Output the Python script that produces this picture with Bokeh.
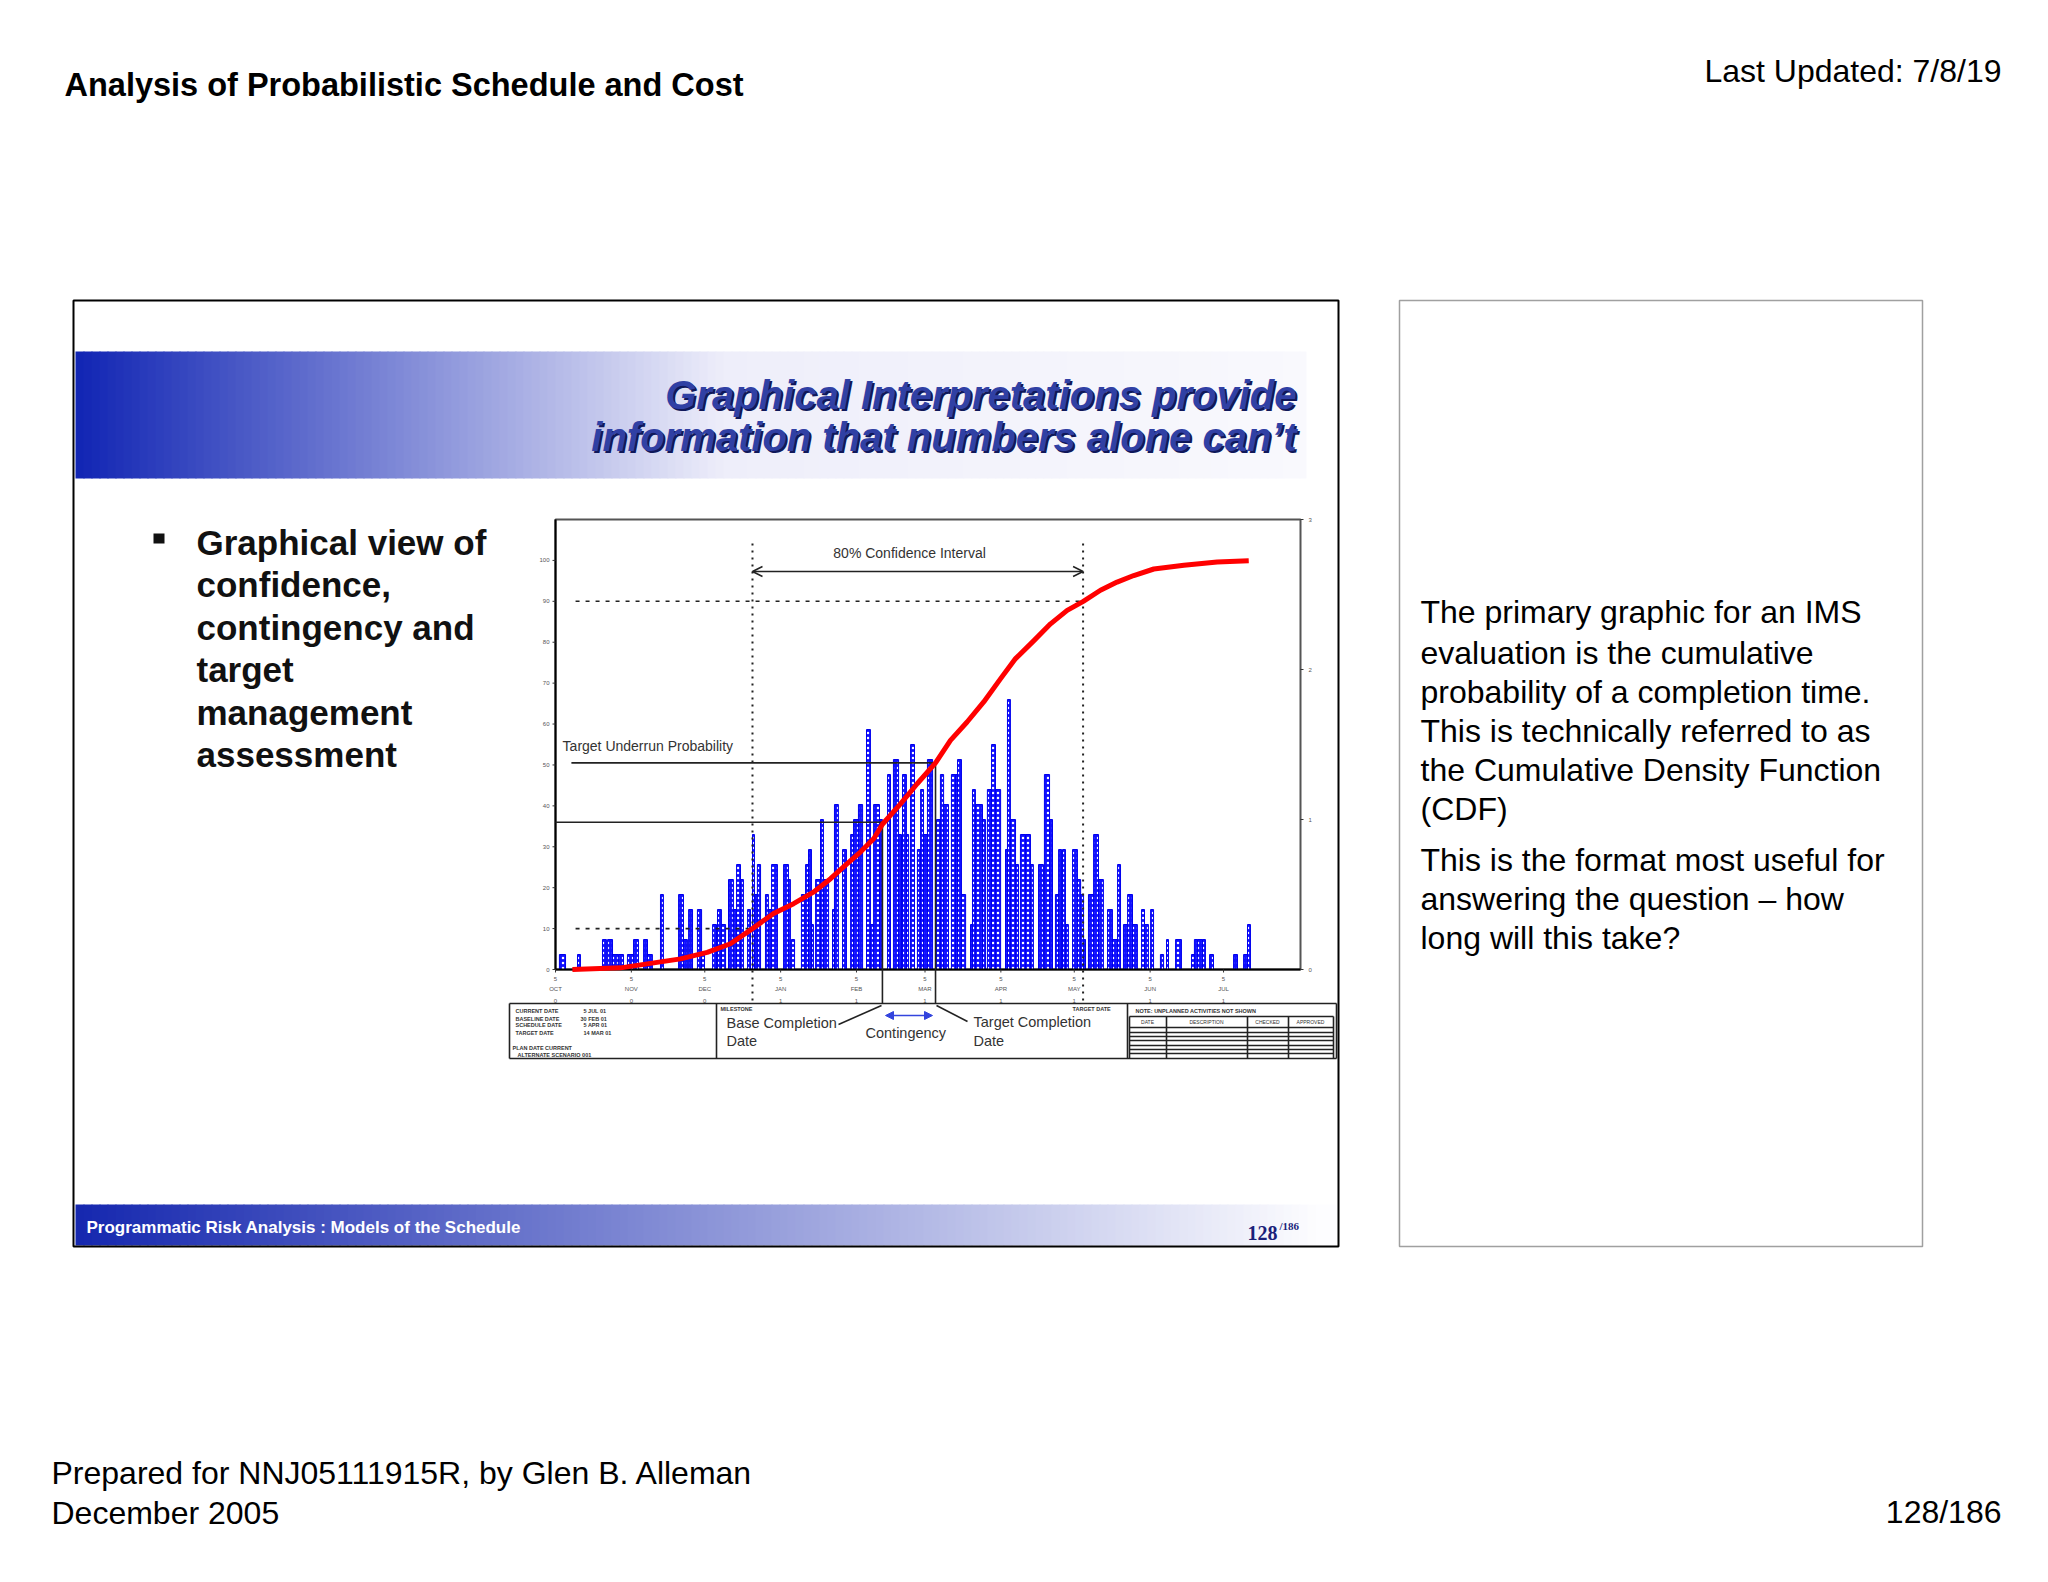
from bokeh.plotting import figure
from bokeh.models import Range1d, Label, Arrow, OpenHead, NormalHead
from bokeh.core.properties import value
from bokeh.embed import file_html
from bokeh.resources import INLINE

# ---------------- data ----------------
month_days = [0, 31, 61, 92, 123, 151, 182, 212, 243, 273]
month_names = ["OCT", "NOV", "DEC", "JAN", "FEB", "MAR", "APR", "MAY", "JUN", "JUL"]
month_daynum = ["5", "5", "5", "5", "5", "5", "5", "5", "5", "5"]
month_year = ["0", "0", "0", "1", "1", "1", "1", "1", "1", "1"]
prob_ticks = [0, 10, 20, 30, 40, 50, 60, 70, 80, 90, 100]
prob_labels = ["0", "10", "20", "30", "40", "50", "60", "70", "80", "90", "100"]
freq_ticks = [0, 1, 2, 3]
freq_labels = ["0", "1", "2", "3"]

bar_start = [1.6, 9.0, 19.2, 21.3, 23.3, 25.7, 29.4, 31.9, 36.0, 37.6,
             42.9, 50.3, 52.3, 54.4, 58.0, 59.7, 64.2, 66.2, 67.8, 70.7,
             72.7, 74.0, 75.6, 78.5, 80.5, 81.3, 82.5, 85.8, 87.0, 88.3,
             93.2, 95.2, 96.4, 100.5, 102.2, 103.4, 104.6, 106.3, 108.3, 109.5,
             113.2, 114.0, 117.3, 120.6, 121.8, 123.8, 127.1, 128.7, 130.0, 132.4,
             135.7, 138.1, 140.2, 141.8, 143.4, 145.1, 147.9, 149.2, 150.4, 152.0,
             155.7, 157.3, 158.6, 161.8, 163.5, 164.3, 165.9, 169.6, 170.4, 171.6,
             174.5, 176.5, 178.2, 179.8, 183.9, 184.7, 185.9, 188.0, 190.0, 192.1,
             194.1, 197.4, 199.8, 201.9, 204.3, 205.6, 207.2, 208.4, 211.3, 213.3,
             214.6, 215.8, 217.8, 219.9, 221.9, 225.6, 227.6, 229.7, 232.1, 233.8,
             235.8, 239.5, 240.7, 243.2, 247.2, 249.7, 253.4, 259.9, 261.1, 262.4,
             264.4, 267.3, 277.1, 281.2, 282.8]
bar_end = [4.1, 10.2, 20.8, 23.3, 25.7, 27.8, 31.9, 33.9, 37.6, 39.6,
           44.1, 52.3, 53.9, 56.0, 59.7, 60.9, 65.8, 67.8, 69.5, 72.7,
           74.0, 75.6, 76.8, 79.7, 81.3, 82.5, 83.8, 87.0, 88.3, 90.7,
           95.2, 96.0, 97.7, 101.8, 103.4, 104.6, 105.4, 108.3, 109.5, 111.6,
           114.0, 115.6, 118.9, 121.8, 123.8, 125.5, 128.7, 130.0, 132.4, 133.6,
           136.9, 140.2, 141.4, 143.4, 144.3, 146.7, 149.2, 150.4, 152.0, 154.1,
           157.3, 158.6, 160.6, 163.5, 164.3, 165.9, 167.6, 170.4, 171.6, 174.5,
           175.7, 178.2, 179.8, 181.9, 184.7, 185.9, 188.0, 189.2, 192.1, 194.1,
           195.3, 199.4, 201.9, 203.1, 205.6, 206.8, 208.4, 209.6, 213.3, 214.6,
           215.8, 216.6, 219.9, 221.9, 223.9, 227.6, 229.7, 230.9, 233.8, 235.8,
           237.8, 240.7, 242.3, 244.4, 248.5, 250.5, 255.8, 261.1, 262.4, 264.4,
           265.6, 268.9, 278.7, 282.8, 284.0]
bar_freq = [0.1, 0.1, 0.2, 0.2, 0.1, 0.1, 0.1, 0.2, 0.2, 0.1,
            0.5, 0.5, 0.2, 0.4, 0.4, 0.1, 0.3, 0.4, 0.3, 0.6,
            0.4, 0.7, 0.6, 0.4, 0.9, 0.5, 0.7, 0.5, 0.4, 0.7,
            0.7, 0.6, 0.2, 0.5, 0.7, 0.8, 0.3, 0.6, 1.0, 0.6,
            0.4, 1.1, 0.8, 0.9, 1.0, 1.1, 1.6, 0.3, 1.1, 1.0,
            1.3, 1.4, 0.9, 1.3, 0.9, 1.5, 0.8, 1.2, 0.9, 1.4,
            1.0, 1.3, 1.1, 1.3, 1.3, 1.4, 0.5, 0.3, 1.2, 1.1,
            1.0, 1.2, 1.5, 1.2, 0.8, 1.8, 1.0, 0.7, 0.9, 0.9,
            0.7, 0.7, 1.3, 1.0, 0.5, 0.8, 0.8, 0.3, 0.8, 0.6,
            0.5, 0.2, 0.5, 0.9, 0.6, 0.4, 0.2, 0.7, 0.3, 0.5,
            0.3, 0.4, 0.3, 0.4, 0.1, 0.2, 0.2, 0.1, 0.2, 0.2,
            0.2, 0.1, 0.1, 0.1, 0.3]

cdf_day = [6.9, 26.6, 38.8, 51.1, 62.0, 71.5, 80.5, 89.1, 97.3, 105.4,
           112.4, 119.2, 124.6, 130.1, 133.6, 141.0, 147.8, 155.3, 161.4, 168.2,
           175.0, 181.9, 188.0, 195.5, 202.3, 209.1, 215.7, 222.7, 229.5, 236.3,
           244.5, 256.8, 270.4, 283.3]
cdf_pct = [0.0, 0.4, 1.5, 2.6, 4.2, 6.3, 10.0, 13.7, 16.1, 18.9,
           22.2, 25.9, 28.7, 32.0, 35.5, 40.5, 45.4, 50.5, 56.0, 60.5,
           65.4, 71.1, 76.0, 80.4, 84.5, 87.8, 90.0, 92.7, 94.7, 96.3,
           97.9, 98.8, 99.6, 99.9]

base_day, base_pct = 133.6, 36.0
target_day, target_pct = 155.3, 50.5
ci_low_day, ci_low_pct = 80.5, 10.0
ci_high_day, ci_high_pct = 215.6, 90.0

# ---------------- layout constants (page pixels) ----------------
W, H = 2032, 1566
CH_L, CH_R, CH_T, CH_B = 555, 1300, 519, 969      # inner chart frame
X_SPAN, Y_SPAN, F_SPAN = 304.45, 110.0, 3.0       # inner chart extents

ppd = (CH_R - CH_L) / X_SPAN
ppp = (CH_B - CH_T) / Y_SPAN
ppf = (CH_B - CH_T) / F_SPAN

p = figure(width=W, height=H, x_range=Range1d(0, W), y_range=Range1d(H, 0),
           output_backend="svg", toolbar_location=None, title=None,
           x_axis_type=None, y_axis_type=None,
           min_border_left=0, min_border_right=0, min_border_top=0, min_border_bottom=0)
p.extra_x_ranges = {"day": Range1d(-CH_L / ppd, (W - CH_L) / ppd)}
p.extra_y_ranges = {"pct": Range1d(-(H - CH_B) / ppp, CH_B / ppp),
                    "freq": Range1d(-(H - CH_B) / ppf, CH_B / ppf)}
p.xgrid.visible = False
p.ygrid.visible = False
p.outline_line_color = None
p.background_fill_color = "white"
p.border_fill_color = "white"

DP = dict(x_range_name="day", y_range_name="pct")
DF = dict(x_range_name="day", y_range_name="freq")
FONT = "Liberation Sans"


def lerp(c1, c2, t):
    return "#%02x%02x%02x" % tuple(int(round(a + (b - a) * t)) for a, b in zip(c1, c2))


def txt(x, y, s, size, color="#000000", style="normal", font=FONT, align="left", **kw):
    p.add_layout(Label(x=x, y=y, text=s, text_font=font, text_font_size="%spx" % size,
                       text_font_style=style, text_color=color, text_align=align,
                       text_baseline="middle", **kw))


# ---------------- slide decorations ----------------
# banner gradient
bl, br, bc = [], [], []
x = 75
while x < 1306:
    if x < 720:
        c = lerp((18, 38, 180), (238, 238, 250), (x - 75) / 645.0)
    else:
        c = lerp((238, 238, 250), (249, 249, 253), (x - 720) / 586.0)
    bl.append(x); br.append(min(x + 9, 1306)); bc.append(c)
    x += 8
p.quad(left=bl, right=br, top=351, bottom=478, fill_color=bc, line_color=None)

# footer gradient
fl, fr, fc = [], [], []
x = 75
while x < 1336:
    fl.append(x); fr.append(min(x + 9, 1336))
    fc.append(lerp((22, 40, 175), (253, 253, 255), min(1.0, (x - 75) / 1240.0)))
    x += 8
p.quad(left=fl, right=fr, top=1204, bottom=1245, fill_color=fc, line_color=None)

# frames
p.quad(left=73, right=1338, top=300, bottom=1246, fill_color=None, line_color="black", line_width=2)
p.quad(left=1399, right=1922, top=300, bottom=1246, fill_color=None, line_color="#a0a0a0", line_width=1.5)

# ---------------- inner chart ----------------
p.quad(left=0, right=X_SPAN, bottom=0, top=Y_SPAN, fill_color=None, line_color="#555555",
       line_width=2, **DP)

p.quad(left=bar_start, right=bar_end, bottom=0, top=bar_freq,
       fill_color="#1010ff", line_color="#0000ee", line_width=1,
       hatch_pattern="dot", hatch_color="white", hatch_scale=5, hatch_weight=0.8, **DF)

# axes lines
p.segment(x0=[0, 0], y0=[0, 0], x1=[0, X_SPAN], y1=[Y_SPAN, 0], line_color="black", line_width=2, **DP)
# left ticks & labels
p.segment(x0=[0] * len(prob_ticks), y0=prob_ticks, x1=[-3 / ppd] * len(prob_ticks), y1=prob_ticks,
          line_color="#333333", line_width=1, **DP)
p.text(x=[0] * len(prob_ticks), y=prob_ticks, text=prob_labels, x_offset=-6,
       text_font=value(FONT), text_font_size="6px", text_color="#555555",
       text_align="right", text_baseline="middle", **DP)
# bottom ticks & labels
p.segment(x0=month_days, y0=[0] * len(month_days), x1=month_days, y1=[-3 / ppp] * len(month_days),
          line_color="#333333", line_width=1, **DP)
for rows, off in ((month_daynum, 9), (month_names, 19), (month_year, 31)):
    p.text(x=month_days, y=[0] * len(month_days), text=rows, y_offset=off,
           text_font=value(FONT), text_font_size="6px", text_color="#555555",
           text_align="center", text_baseline="middle", **DP)
# right ticks & labels
p.segment(x0=[X_SPAN] * 4, y0=freq_ticks, x1=[X_SPAN + 3 / ppd] * 4, y1=freq_ticks,
          line_color="#333333", line_width=1, **DF)
p.text(x=[X_SPAN] * 4, y=freq_ticks, text=freq_labels, x_offset=8,
       text_font=value(FONT), text_font_size="6px", text_color="#555555",
       text_align="left", text_baseline="middle", **DF)

# reference lines
BOT = -(1003 - CH_B) / ppp       # down to legend table top
TOPD = (CH_B - 543) / ppp        # top of dotted verticals
p.segment(x0=[0, base_day, 6.5, target_day], y0=[base_pct, base_pct, target_pct, target_pct],
          x1=[base_day, base_day, target_day, target_day], y1=[base_pct, BOT, target_pct, BOT],
          line_color="#222222", line_width=1.6, **DP)
p.segment(x0=[8.2, 8.2], y0=[ci_high_pct, ci_low_pct], x1=[ci_high_day, ci_low_day],
          y1=[ci_high_pct, ci_low_pct], line_color="#222222", line_width=1.6, line_dash="4 6", **DP)
p.segment(x0=[ci_low_day, ci_high_day], y0=[TOPD, TOPD], x1=[ci_low_day, ci_high_day], y1=[BOT, BOT],
          line_color="#222222", line_width=2, line_dash="2 5", **DP)
ci_y = (CH_B - 571) / ppp
p.add_layout(Arrow(x_start=ci_low_day, y_start=ci_y, x_end=ci_high_day, y_end=ci_y,
                   start=OpenHead(size=10, line_width=1.5, line_color="#222222"),
                   end=OpenHead(size=10, line_width=1.5, line_color="#222222"),
                   line_color="#222222", line_width=1.6, **DP))

p.line(cdf_day, cdf_pct, line_color="#ff0000", line_width=5, line_join="round", **DP)

txt(2.9, (CH_B - 745) / ppp, "Target Underrun Probability", 14, color="#333333", **DP)
txt(144.7, (CH_B - 552.5) / ppp, "80% Confidence Interval", 14, color="#333333", align="center", **DP)

# legend table below chart (page coords)
hx0 = [509, 509, 509, 1336, 716, 1127, 1129]
hy0 = [1003, 1058, 1003, 1003, 1003, 1003, 1016]
hx1 = [1336, 1336, 509, 1336, 716, 1127, 1333]
hy1 = [1003, 1058, 1058, 1058, 1058, 1058, 1016]
for yy in [1027, 1032, 1036, 1040, 1045, 1049, 1053]:
    hx0.append(1129); hy0.append(yy); hx1.append(1333); hy1.append(yy)
for xx in [1129, 1166, 1247, 1288, 1333]:
    hx0.append(xx); hy0.append(1016); hx1.append(xx); hy1.append(1058)
p.segment(x0=hx0, y0=hy0, x1=hx1, y1=hy1, line_color="#222222", line_width=1.6)
p.segment(x0=[838, 967], y0=[1024, 1021], x1=[881, 936], y1=[1005, 1005], line_color="#222222", line_width=1.6)
p.add_layout(Arrow(x_start=885, y_start=1015, x_end=932, y_end=1015,
                   start=NormalHead(size=8, fill_color="#3344dd", line_color="#3344dd"),
                   end=NormalHead(size=8, fill_color="#3344dd", line_color="#3344dd"),
                   line_color="#3344dd", line_width=1.6))

txt(726, 1022, "Base Completion", 14.5, color="#333333")
txt(726, 1040, "Date", 14.5, color="#333333")
txt(865, 1032, "Contingency", 14.5, color="#333333")
txt(973, 1021, "Target Completion", 14.5, color="#333333")
txt(973, 1040, "Date", 14.5, color="#333333")

small = [(515, 1010, "CURRENT DATE"), (583, 1010, "5 JUL 01"),
         (515, 1018, "BASELINE DATE"), (580, 1018, "30 FEB 01"),
         (515, 1024, "SCHEDULE DATE"), (583, 1024, "5 APR 01"),
         (515, 1032, "TARGET DATE"), (583, 1032, "14 MAR 01"),
         (512, 1047, "PLAN DATE    CURRENT"), (517, 1054, "ALTERNATE SCENARIO    001"),
         (720, 1008, "MILESTONE"), (1072, 1008, "TARGET DATE"),
         (1135, 1010, "NOTE: UNPLANNED ACTIVITIES NOT SHOWN")]
for sx, sy, s in small:
    txt(sx, sy, s, 5.5, color="#333333", style="bold")
for sx, s in zip([1147, 1206, 1267, 1310], ["DATE", "DESCRIPTION", "CHECKED", "APPROVED"]):
    txt(sx, 1021, s, 5, color="#333333", align="center")

# ---------------- texts ----------------
txt(64, 84, "Analysis of Probabilistic Schedule and Cost", 32.5, style="bold")
txt(2001, 70, "Last Updated: 7/8/19", 32, align="right")
txt(51, 1472, "Prepared for NNJ05111915R, by Glen B. Alleman", 32)
txt(51, 1512, "December 2005", 32)
txt(2001, 1511, "128/186", 32, align="right")

for (ty, line_) in ((394, "Graphical Interpretations provide"), (436, "information that numbers alone can\u2019t")):
    txt(1298, ty + 2, line_, 40, color="#10185a", style="bold italic", align="right")
    txt(1296, ty, line_, 40, color="#3040a4", style="bold italic", align="right")

p.quad(left=153, right=164, top=533, bottom=543, fill_color="#111111", line_color=None)
for ty, s in zip([542, 584, 627, 669, 712, 754],
                 ["Graphical view of", "confidence,", "contingency and", "target", "management", "assessment"]):
    txt(196, ty, s, 35, color="#111111", style="bold")

txt(86, 1227, "Programmatic Risk Analysis : Models of the Schedule", 17, color="white", style="bold")
txt(1247, 1232, "128", 20, color="#1b1f7a", style="bold", font="Liberation Serif")
txt(1279, 1225, "/186", 11, color="#1b1f7a", style="bold", font="Liberation Serif")

for ty, s in zip([611, 652, 691, 730, 769, 808, 859, 898, 937],
                 ["The primary graphic for an IMS", "evaluation is the cumulative",
                  "probability of a completion time.", "This is technically referred to as",
                  "the Cumulative Density Function", "(CDF)",
                  "This is the format most useful for", "answering the question \u2013 how",
                  "long will this take?"]):
    txt(1420, ty, s, 32)

open("out.html", "w").write(file_html(p, INLINE))
